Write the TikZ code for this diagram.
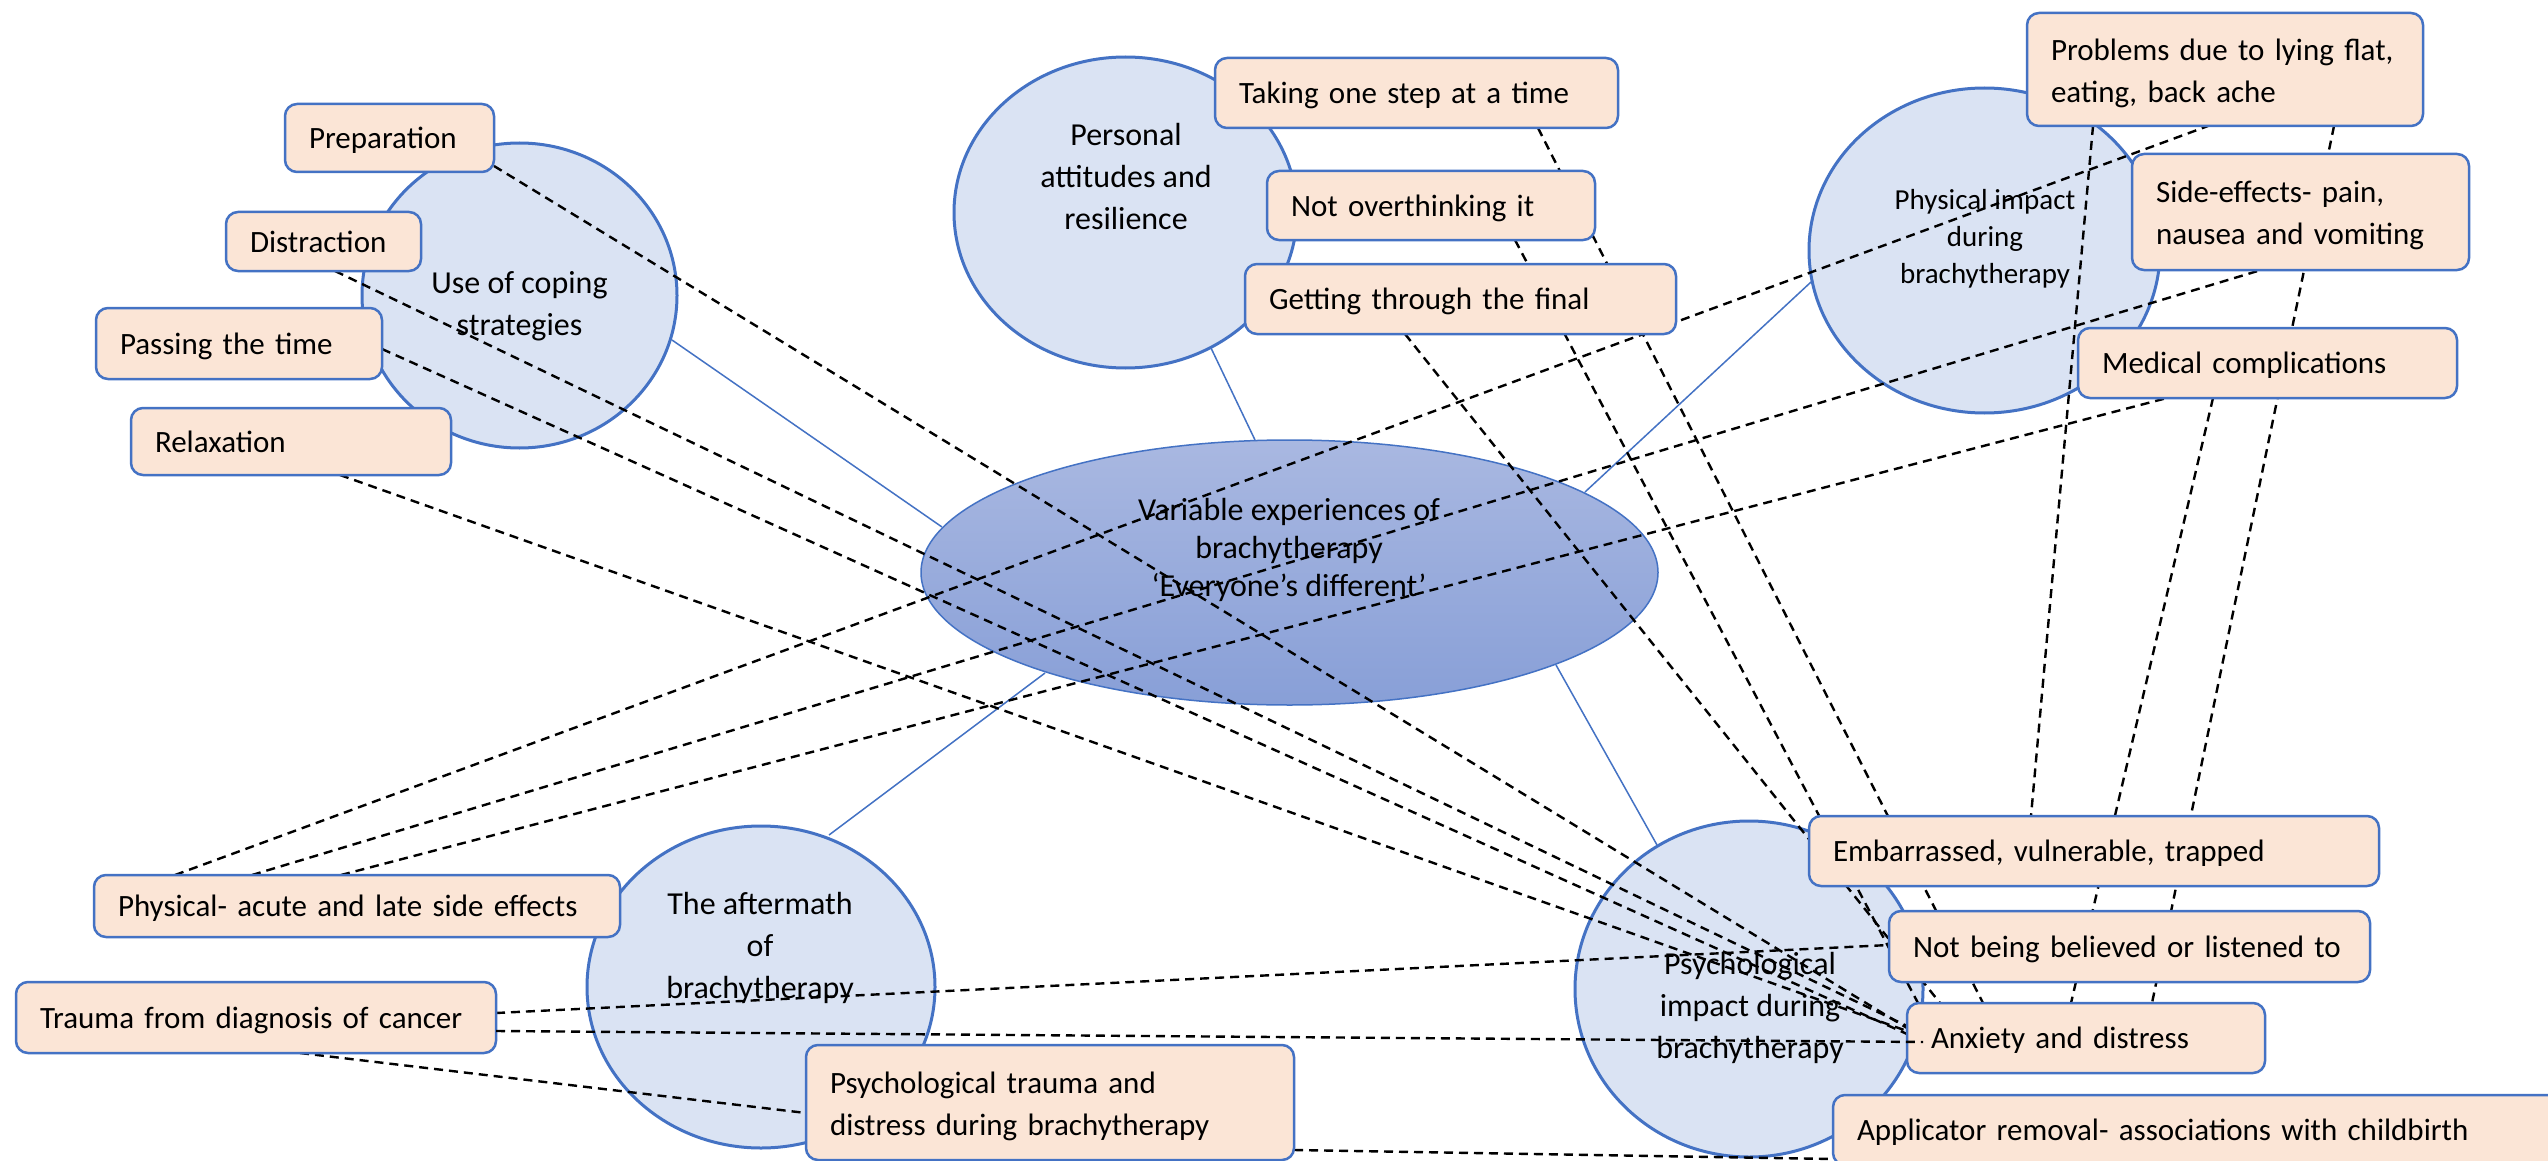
\documentclass[tikz,border=0pt]{standalone}
\usepackage{fontspec}
\setmainfont{Carlito}
\usetikzlibrary{calc,shapes.geometric}
\definecolor{bord}{HTML}{4472C4}
\definecolor{boxfill}{HTML}{FBE5D6}
\definecolor{ellfill}{HTML}{DAE3F3}
\definecolor{ctop}{HTML}{A9B8E1}
\definecolor{cbot}{HTML}{889FD7}
\pgfdeclarelayer{themes}
\pgfdeclarelayer{links}
\pgfdeclarelayer{top}
\pgfsetlayers{themes,links,main,top}
\begin{document}
\begin{tikzpicture}[x=1pt,y=-1pt,
  theme/.style={ellipse, draw=bord, line width=3pt, fill=ellfill, inner sep=0pt, outer sep=0pt},
  etext/.style={align=center, inner sep=0pt, font=\fontsize{32}{42}\selectfont},
  item/.style={draw=bord, line width=2.5pt, fill=boxfill, rounded corners=12pt, inner xsep=24pt, inner ysep=0pt, outer sep=0pt, align=left, font=\fontsize{31}{42}\selectfont},
  oneline/.style={item, text depth=0pt},
  dline/.style={draw=black, line width=2.4pt, dash pattern=on 9pt off 6pt},
  bline/.style={draw=bord, line width=1.5pt}]
\begin{pgfonlayer}{themes}
\fill[white] (0,0) rectangle (2548,1161);
\end{pgfonlayer}
\useasboundingbox (0,0) rectangle (2548,1161);
\clip (0,0) rectangle (2548,1161);

\begin{pgfonlayer}{themes}
% theme ellipses
\node[theme, minimum width=315pt, minimum height=305pt] (coping) at (519.5,295.5) {};
\node[theme, minimum width=343pt, minimum height=311pt] (personal) at (1125.5,212.5) {};
\node[theme, minimum width=351pt, minimum height=325pt] (physical) at (1984.5,250.5) {};
\node[theme, minimum width=348pt, minimum height=322pt] (aftermath) at (761,987) {};
\node[theme, minimum width=348pt, minimum height=336pt] (psych) at (1749,989) {};
\node[ellipse, draw=bord, line width=1.5pt, top color=ctop, bottom color=cbot, inner sep=0pt, outer sep=0pt, minimum width=737pt, minimum height=265pt] (central) at (1289.5,572.5) {};

% solid connectors to the central theme
\draw[bline] ($(coping.center)+(152.5,44.5)$) -- ($(central.center)+(-347.5,-45.5)$);
\draw[bline] ($(personal.center)+(85.5,135.5)$) -- ($(central.center)+(-34.5,-132.5)$);
\draw[bline] ($(physical.center)+(-173.5,31.5)$) -- ($(central.center)+(295.5,-80.5)$);
\draw[bline] ($(aftermath.center)+(68,-152)$) -- ($(central.center)+(-244.5,100.5)$);
\draw[bline] ($(psych.center)+(-92,-144)$) -- ($(central.center)+(266.5,92.5)$);

% theme texts
\node[etext] (copingT) at (519.5,306) {Use of coping\\strategies};
\node[etext] (personalT) at (1126,176.5) {Personal\\attitudes and\\resilience};
\node[etext, font=\fontsize{29}{37}\selectfont] (physicalT) at (1985,238.5) {Physical impact\\during\\brachytherapy};
\node[etext, font=\fontsize{32}{38}\selectfont] (centralT) at (1289,550) {Variable experiences of\\brachytherapy\\‘Everyone’s different’};
\node[etext] (aftermathT) at (760,947.5) {The aftermath\\of\\brachytherapy};
\node[etext] (psychT) at (1750,1007.5) {Psychological\\impact during\\brachytherapy};
\end{pgfonlayer}

% boxes
\node[oneline, text width=161pt, minimum height=68pt] (prep) at (389.5,138) {\mbox{Preparation}};
\node[oneline, text width=147pt, minimum height=59pt] (distr) at (323.5,241.5) {\mbox{Distraction}};
\node[oneline, text width=238pt, minimum height=71pt] (pass) at (239,343.5) {\mbox{Passing the time}};
\node[oneline, text width=272pt, minimum height=67pt] (relax) at (291,441.5) {\mbox{Relaxation}};
\node[oneline, text width=355pt, minimum height=70pt] (step) at (1416.5,93) {\mbox{Taking one step at a time}};
\node[oneline, text width=280pt, minimum height=69pt] (nover) at (1431,205.5) {\mbox{Not overthinking it}};
\node[oneline, text width=383pt, minimum height=70pt] (getting) at (1460.5,299) {\mbox{Getting through the final}};
\node[item, text width=348pt, minimum height=113pt] (prob) at (2225,69.5) {\rule{0pt}{29pt}\mbox{Problems due to lying flat,}\\\mbox{eating, back ache}};
\node[item, text width=289pt, minimum height=116pt] (side) at (2300.5,212) {\rule{0pt}{29pt}\mbox{Side-effects- pain,}\\\mbox{nausea and vomiting}};
\node[oneline, text width=331pt, minimum height=70pt] (med) at (2267.5,363) {\mbox{Medical complications}};
\node[oneline, text width=522pt, minimum height=70pt] (emb) at (2094,851) {\mbox{Embarrassed, vulnerable, trapped}};
\node[oneline, text width=433pt, minimum height=71pt] (notbel) at (2129.5,946.5) {\mbox{Not being believed or listened to}};
\node[oneline, text width=310pt, minimum height=70pt] (anx) at (2086,1038) {\mbox{Anxiety and distress}};
\node[oneline, text width=689pt, minimum height=70pt] (appl) at (2201.5,1130) {\mbox{Applicator removal- associations with childbirth}};
\node[oneline, text width=478pt, minimum height=62pt] (physac) at (357,906) {\mbox{Physical- acute and late side effects}};
\node[oneline, text width=432pt, minimum height=71pt] (trauma) at (256,1017.5) {\mbox{Trauma from diagnosis of cancer}};
\node[item, text width=440pt, minimum height=115pt] (ptrauma) at (1050,1102.5) {\rule{0pt}{29pt}\mbox{Psychological trauma and}\\\mbox{distress during brachytherapy}};

% dashed links, under the boxes
\begin{pgfonlayer}{links}
\draw[dline] ($(prep.south east)+(0,-6)$) -- ($(anx.north west)+(0,25)$);
\draw[dline] ($(distr.south west)+(109,0)$) -- ($(anx.north west)+(0,23)$);
\draw[dline] ($(pass.east)+(0,5.5)$) -- ($(anx.north west)+(0,31)$);
\draw[dline] ($(relax.south west)+(209,0)$) -- ($(anx.north west)+(0,28)$);
\draw[dline] ($(step.south west)+(323,0)$) -- ($(anx.north west)+(76,0)$);
\draw[dline] ($(nover.south west)+(248,0)$) -- ($(anx.north west)+(11,0)$);
\draw[dline] ($(getting.south west)+(160,0)$) -- ($(anx.north west)+(33,0)$);
\draw[dline] ($(prob.south west)+(66,0)$) -- ($(emb.north west)+(222,0)$);
\draw[dline] ($(med.south west)+(135,0)$) -- ($(anx.north west)+(164,0)$);
\draw[dline] ($(prob.south west)+(307,0)$) -- ($(anx.north west)+(245,0)$);
\draw[dline] ($(physac.north west)+(81,0)$) -- ($(prob.south west)+(181,0)$);
\draw[dline] ($(physac.north west)+(158,0)$) -- ($(side.south west)+(129,0)$);
\draw[dline] ($(physac.north west)+(247,0)$) -- ($(med.south west)+(89,0)$);
\draw[dline] ($(trauma.east)+(0,-4.5)$) -- ($(notbel.west)+(0,-1.5)$);
\draw[dline] ($(trauma.south west)+(284,0)$) -- ($(ptrauma.west)+(0,10.5)$);
\draw[dline] ($(ptrauma.east)+(0,47.5)$) -- ($(appl.west)+(0,29)$);
\end{pgfonlayer}

% this link runs slightly into its box
\begin{pgfonlayer}{top}
\draw[dline] ($(trauma.east)+(0,13.5)$) -- ($(anx.west)+(16,4)$);
\end{pgfonlayer}

\end{tikzpicture}
\end{document}
